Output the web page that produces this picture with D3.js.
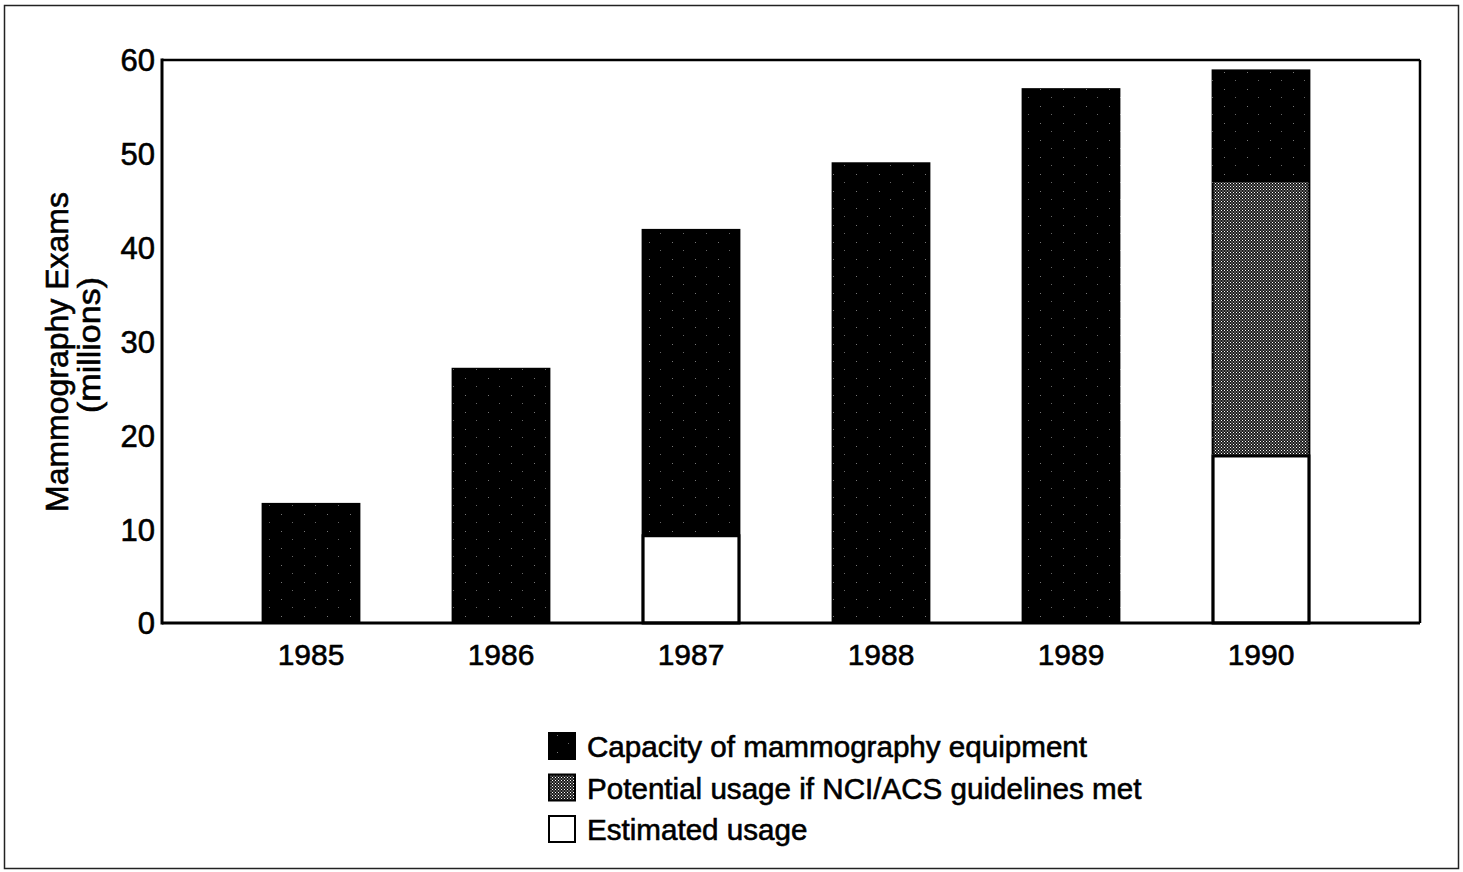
<!DOCTYPE html>
<html>
<head>
<meta charset="utf-8">
<script src="https://cdn.jsdelivr.net/npm/d3@7"></script>
<style>
  html, body { margin: 0; padding: 0; background: #fff; }
  svg { display: block; }
  text { font-family: "Liberation Sans", Arial, Helvetica, sans-serif; fill: #000; stroke: #000; stroke-width: 0.6px; }
</style>
</head>
<body>
<svg id="chart" width="1463" height="872"></svg>
<script>
// ---- data ----
const years = ["1985", "1986", "1987", "1988", "1989", "1990"];
const capacity = [12.8, 27.2, 42.0, 49.1, 57.0, 59.0];
const potential = [null, null, null, null, null, 47.0];
const estimated = [null, null, 9.3, null, null, 17.8];
const yTicks = [0, 10, 20, 30, 40, 50, 60];
const legendLabels = [
  "Capacity of mammography equipment",
  "Potential usage if NCI/ACS guidelines met",
  "Estimated usage"
];
const yTitle = ["Mammography Exams", "(millions)"];

// ---- layout ----
const plot = { left: 162, right: 1420, top: 60, bottom: 623 };

const svg = d3.select("#chart");

// patterns
const defs = svg.append("defs");
const pat = defs.append("pattern")
  .attr("id", "gray").attr("patternUnits", "userSpaceOnUse")
  .attr("width", 3).attr("height", 3);
pat.append("rect").attr("width", 3).attr("height", 3).attr("fill", "#1a1a1a");
pat.append("rect").attr("x", 0).attr("y", 0).attr("width", 1).attr("height", 1).attr("fill", "#fff");
pat.append("rect").attr("x", 1.5).attr("y", 1.5).attr("width", 1).attr("height", 1).attr("fill", "#eee");

const patB = defs.append("pattern")
  .attr("id", "black").attr("patternUnits", "userSpaceOnUse")
  .attr("width", 23).attr("height", 17);
patB.append("rect").attr("width", 23).attr("height", 17).attr("fill", "#000");
patB.append("rect").attr("x", 5).attr("y", 4).attr("width", 1).attr("height", 1).attr("fill", "#777");
patB.append("rect").attr("x", 16).attr("y", 12).attr("width", 1).attr("height", 1).attr("fill", "#666");

// outer frame
svg.append("rect")
  .attr("x", 4.5).attr("y", 5.5).attr("width", 1454).attr("height", 863)
  .attr("fill", "none").attr("stroke", "#222").attr("stroke-width", 1.5);

// scales
const x = d3.scaleBand().domain(years).range([216, 1356])
  .paddingInner(0.48).paddingOuter(0.24);
const y = d3.scaleLinear().domain([0, 60]).range([plot.bottom, plot.top]);

// bars: capacity
const g = svg.append("g");
g.selectAll("rect.cap").data(years).join("rect")
  .attr("class", "cap")
  .attr("x", d => x(d))
  .attr("width", x.bandwidth())
  .attr("y", (d, i) => y(capacity[i]))
  .attr("height", (d, i) => y(0) - y(capacity[i]))
  .attr("fill", "url(#black)");

// potential
g.selectAll("rect.pot").data(years.filter((d, i) => potential[i] != null)).join("rect")
  .attr("class", "pot")
  .attr("x", d => x(d) + 2)
  .attr("width", x.bandwidth() - 4)
  .attr("y", d => y(potential[years.indexOf(d)]))
  .attr("height", d => y(0) - y(potential[years.indexOf(d)]))
  .attr("fill", "url(#gray)");

// estimated
g.selectAll("rect.est").data(years.filter((d, i) => estimated[i] != null)).join("rect")
  .attr("class", "est")
  .attr("x", d => x(d) + 1.5)
  .attr("width", x.bandwidth() - 3)
  .attr("y", d => y(estimated[years.indexOf(d)]))
  .attr("height", d => y(0) - y(estimated[years.indexOf(d)]))
  .attr("fill", "#fff").attr("stroke", "#000").attr("stroke-width", 3);

// plot frame
svg.append("line").attr("x1", plot.left).attr("x2", plot.right)
  .attr("y1", plot.top).attr("y2", plot.top).attr("stroke", "#000").attr("stroke-width", 2.5);
svg.append("line").attr("x1", plot.right).attr("x2", plot.right)
  .attr("y1", plot.top).attr("y2", plot.bottom).attr("stroke", "#000").attr("stroke-width", 2.5);
svg.append("line").attr("x1", plot.left).attr("x2", plot.right)
  .attr("y1", plot.bottom).attr("y2", plot.bottom).attr("stroke", "#000").attr("stroke-width", 3);
svg.append("line").attr("x1", plot.left).attr("x2", plot.left)
  .attr("y1", plot.top - 1.5).attr("y2", plot.bottom + 1.5).attr("stroke", "#000").attr("stroke-width", 3);

// y axis labels
const yAxis = d3.axisLeft(y).tickValues(yTicks).tickSize(0).tickPadding(7);
const ya = svg.append("g").attr("transform", `translate(${plot.left},0)`).call(yAxis);
ya.select(".domain").remove();
ya.selectAll("text").attr("font-size", 31).attr("font-family", "Liberation Sans, Arial, sans-serif")
  .attr("fill", "#000").attr("dy", "0.35em");

// x axis labels
const xAxis = d3.axisBottom(x).tickSize(0).tickPadding(21);
const xa = svg.append("g").attr("transform", `translate(0,${plot.bottom})`).call(xAxis);
xa.select(".domain").remove();
xa.selectAll("text").attr("font-size", 30).attr("font-family", "Liberation Sans, Arial, sans-serif")
  .attr("fill", "#000");

// y title
svg.append("text")
  .attr("transform", "translate(68,352) rotate(-90)")
  .attr("text-anchor", "middle").attr("font-size", 31)
  .attr("textLength", 320).attr("lengthAdjust", "spacingAndGlyphs")
  .text(yTitle[0]);
svg.append("text")
  .attr("transform", "translate(100,345) rotate(-90)")
  .attr("text-anchor", "middle").attr("font-size", 31)
  .attr("textLength", 136).attr("lengthAdjust", "spacingAndGlyphs")
  .text(yTitle[1]);

// legend
const legendFills = ["url(#black)", "url(#gray)", "#fff"];
const lg = svg.append("g");
legendLabels.forEach((lab, i) => {
  const top = 733 + i * 41.5;
  lg.append("rect").attr("x", 549).attr("y", top).attr("width", 26).attr("height", 26)
    .attr("fill", legendFills[i]).attr("stroke", "#000").attr("stroke-width", 2);
  lg.append("text").attr("x", 587).attr("y", top + 24).attr("font-size", 29.6).text(lab);
});
</script>
</body>
</html>
